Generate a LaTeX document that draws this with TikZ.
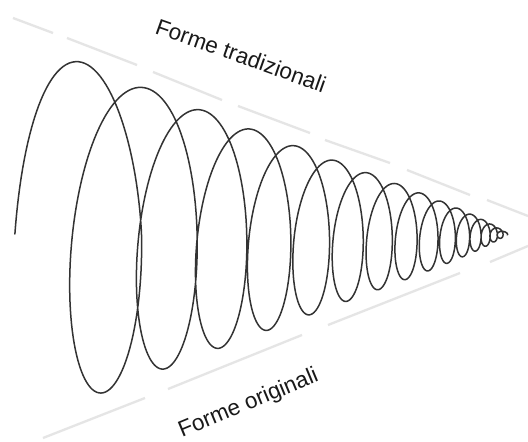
\documentclass[tikz,border=0pt]{standalone}
\usepackage{fontspec}
\setmainfont{Liberation Sans}
\begin{document}
\begin{tikzpicture}[x=1pt,y=1pt,
  declare function={
    Hc(\u)=191.8*exp(-0.072*\u)-19.5;
    Ac(\u)=72+34.236*\u-0.9341*\u*\u+0.009053*\u*\u*\u;
    Wc(\u)=(0.3*Hc(\u)+3)*(1-0.3*max(0,0.5-\u));
  },
  guide/.style={draw=black!10,line width=2.3pt},
  coil/.style={draw=black!80,line width=1.5pt,line join=round,line cap=round},
  label/.style={font=\fontsize{22.5}{27}\selectfont,inner sep=0pt,text=black!90}]
\useasboundingbox (0,0) rectangle (528,-442);
\fill[white] (0,0) rectangle (528,-442);
% guide lines (top)
\draw[guide] (13,-18) -- (53,-33);
\draw[guide] (67,-38) -- (137,-65);
\draw[guide] (153,-72) -- (222,-100);
\draw[guide] (238,-106) -- (310,-133);
\draw[guide] (325,-140) -- (390,-163);
\draw[guide] (407,-170) -- (470,-195);
\draw[guide] (487,-200) -- (528,-216);
% guide lines (bottom)
\draw[guide] (43,-438) -- (145,-398);
\draw[guide] (168,-389) -- (302,-335);
\draw[guide] (328,-325) -- (460,-273);
\draw[guide] (490,-262) -- (528,-246);
% coil
\draw[coil] plot[domain=-0.5:30.7,samples=1800,variable=\n]
  ({Ac(\n)+Wc(\n)*sin(180*\n)+0.035*Hc(\n)*cos(180*\n)},
   {-(234-Hc(\n)*cos(180*\n))});
% labels
\node[label,anchor=base west,rotate=-19.5] (trad) at (154,-33) {Forme tradizionali};
\node[label,anchor=base west,rotate=22.6] (orig) at (182,-438) {Forme originali};
\end{tikzpicture}
\end{document}
